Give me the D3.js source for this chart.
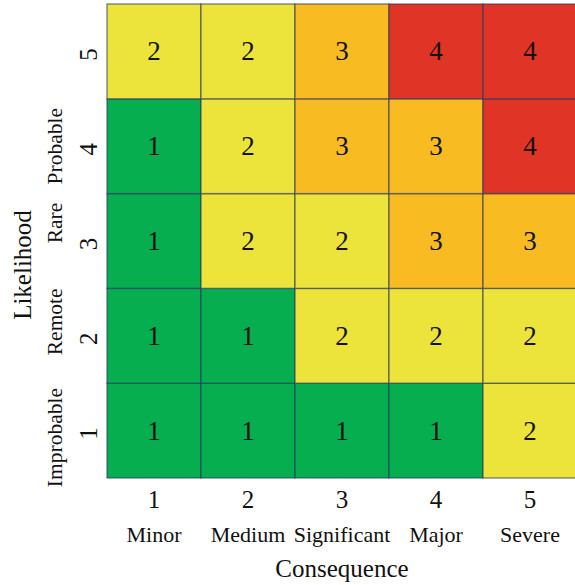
<!DOCTYPE html>
<html>
<head>
<meta charset="utf-8">
<script src="https://cdn.jsdelivr.net/npm/d3@7"></script>
<style>
  html, body { margin: 0; padding: 0; background: #fff; }
  svg { display: block; }
  text { font-family: "Liberation Serif", "Times New Roman", serif; fill: #111; }
</style>
</head>
<body>
<svg id="chart" width="575" height="585"></svg>
<script>
// Risk matrix data
const consequenceLevels = [1, 2, 3, 4, 5];
const consequenceNames = ["Minor", "Medium", "Significant", "Major", "Severe"];
const likelihoodLevels = [1, 2, 3, 4, 5];
const likelihoodNames = ["Improbable", "Remote", "Rare", "Probable", ""];
// risk[likelihood - 1][consequence - 1]
const risk = [
  [1, 1, 1, 1, 2],
  [1, 1, 2, 2, 2],
  [1, 2, 2, 3, 3],
  [1, 2, 3, 3, 4],
  [2, 2, 3, 4, 4]
];
const riskColors = ["#06ae50", "#ece33b", "#f8bb22", "#e03426"];

// layout
const margin = { left: 107, top: 4, right: -2, bottom: 107 };
const width = 575, height = 585;
const nameShift = [7, -14, -18, 0, 0]; // small vertical nudges of the likelihood names

const svg = d3.select("#chart");

const x = d3.scaleBand()
  .domain(consequenceLevels)
  .range([margin.left, width - margin.right])
  .padding(0);
const y = d3.scaleBand()
  .domain(likelihoodLevels.slice().reverse())
  .range([margin.top, height - margin.bottom])
  .padding(0);
const color = d3.scaleOrdinal().domain([1, 2, 3, 4]).range(riskColors);

const cells = [];
likelihoodLevels.forEach((l, i) => {
  consequenceLevels.forEach((c, j) => {
    cells.push({ l, c, v: risk[i][j] });
  });
});

const g = svg.append("g");
g.selectAll("rect.cell")
  .data(cells)
  .join("rect")
  .attr("class", "cell")
  .attr("x", d => x(d.c))
  .attr("y", d => y(d.l))
  .attr("width", x.bandwidth())
  .attr("height", y.bandwidth())
  .attr("fill", d => color(d.v))
  .attr("stroke", "rgba(40,55,95,0.6)")
  .attr("stroke-width", 1.4);

g.selectAll("text.val")
  .data(cells)
  .join("text")
  .attr("class", "val")
  .attr("x", d => x(d.c) + x.bandwidth() / 2)
  .attr("y", d => y(d.l) + y.bandwidth() / 2 + 9)
  .attr("text-anchor", "middle")
  .style("font-size", "27px")
  .text(d => d.v);

// x axis: level numbers and names
const xAxis = svg.append("g")
  .attr("transform", `translate(0,${height - margin.bottom})`)
  .call(d3.axisBottom(x).tickSize(0).tickPadding(0));
xAxis.select(".domain").remove();
xAxis.selectAll(".tick text")
  .attr("y", 30)
  .attr("dy", 0)
  .style("font-size", "25px")
  .style("font-family", "Liberation Serif, serif")
  .attr("fill", "#111");
xAxis.selectAll(".tick")
  .append("text")
  .attr("y", 64)
  .attr("text-anchor", "middle")
  .style("font-size", "22px")
  .style("font-family", "Liberation Serif, serif")
  .attr("fill", "#111")
  .text((d, i) => consequenceNames[i]);

svg.append("text")
  .attr("x", (margin.left + width - margin.right) / 2)
  .attr("y", 577)
  .attr("text-anchor", "middle")
  .style("font-size", "25px")
  .text("Consequence");

// y axis: rotated level numbers and names
const yAxis = svg.append("g")
  .attr("transform", `translate(${margin.left},0)`)
  .call(d3.axisLeft(y).tickSize(0).tickPadding(0));
yAxis.select(".domain").remove();
yAxis.selectAll(".tick text")
  .attr("x", 0).attr("dy", 0)
  .attr("text-anchor", "middle")
  .attr("transform", "translate(-10,3) rotate(-90)")
  .style("font-size", "25px")
  .style("font-family", "Liberation Serif, serif")
  .attr("fill", "#111");
yAxis.selectAll(".tick")
  .append("text")
  .attr("text-anchor", "middle")
  .attr("transform", d => `translate(-45,${nameShift[d - 1]}) rotate(-90)`)
  .style("font-size", "21.5px")
  .style("font-family", "Liberation Serif, serif")
  .attr("fill", "#111")
  .text(d => likelihoodNames[d - 1]);

svg.append("text")
  .attr("transform", `translate(31,${(margin.top + height - margin.bottom) / 2 + 24}) rotate(-90)`)
  .attr("text-anchor", "middle")
  .style("font-size", "25px")
  .text("Likelihood");
</script>
</body>
</html>
